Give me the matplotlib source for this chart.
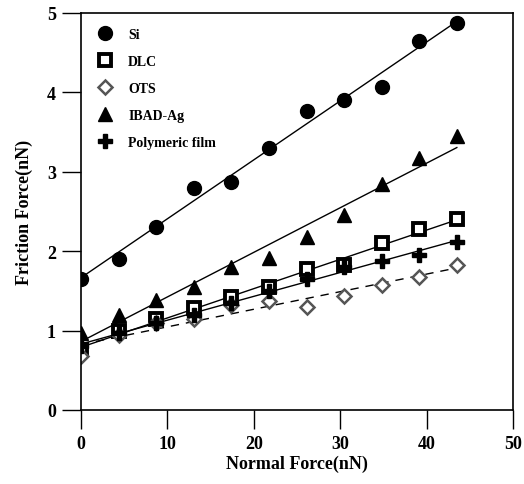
import matplotlib
matplotlib.use("Agg")
import matplotlib.pyplot as plt
import numpy as np

plt.rcParams['font.family'] = ['Liberation Serif', 'DejaVu Serif']
plt.rcParams['font.weight'] = 'bold'

normal_force = [0, 4.35, 8.7, 13.05, 17.4, 21.75, 26.1, 30.45, 34.8, 39.15, 43.5]
si = [1.65, 1.9, 2.3, 2.8, 2.87, 3.3, 3.77, 3.9, 4.07, 4.65, 4.87]
dlc = [0.75, 1.0, 1.15, 1.28, 1.42, 1.55, 1.77, 1.82, 2.1, 2.28, 2.4]
ots = [0.68, 0.95, 1.1, 1.15, 1.32, 1.37, 1.3, 1.43, 1.58, 1.68, 1.82]
ibad_ag = [0.97, 1.2, 1.38, 1.55, 1.8, 1.92, 2.18, 2.45, 2.85, 3.17, 3.45]
polymeric = [0.8, 0.97, 1.1, 1.2, 1.35, 1.5, 1.65, 1.8, 1.88, 1.95, 2.12]

fig = plt.figure(figsize=(5.24, 4.85), dpi=100)
ax = fig.add_axes([0.1546, 0.1526, 0.8244, 0.8186])

x = np.array(normal_force)
series = [
    ('Si', si, dict(marker='o', color='black', markersize=10, mfc='black'), '-'),
    ('DLC', dlc, dict(marker='s', color='black', markersize=9, mfc='white', mew=2.8), '-'),
    ('OTS', ots, dict(marker='D', color='#555555', markersize=7, mfc='white', mew=1.8), (0, (6, 5))),
    ('IBAD-Ag', ibad_ag, dict(marker='^', color='black', markersize=10, mfc='black'), '-'),
    ('Polymeric film', polymeric, dict(marker='P', color='black', markersize=10, mfc='black'), '-'),
]

for name, y, style, ls in series:
    # straight-line fit through each series
    k, b = np.polyfit(x, y, 1)
    ax.plot([x[0], x[-1]], [b, k * x[-1] + b], color='black', lw=1.0, ls=ls)
    ax.plot(x, y, ls='none', label=name, **style)

ax.set_xlim(0, 50)
ax.set_ylim(0, 5)
ax.set_xticks([0, 10, 20, 30, 40, 50])
ax.set_yticks([0, 1, 2, 3, 4, 5])
ax.tick_params(direction='out', length=14, width=1, labelsize=13, pad=4)
for lab in ax.get_xticklabels() + ax.get_yticklabels():
    lab.set_fontweight('bold')
for s in ax.spines.values():
    s.set_linewidth(1.2)

ax.set_xlabel('Normal Force(nN)', fontsize=13, fontweight='bold', labelpad=2)
ax.set_ylabel('Friction Force(nN)', fontsize=13, fontweight='bold', labelpad=10)

ax.legend(loc='upper left', frameon=False, handletextpad=1.1,
          labelspacing=1.0, borderaxespad=0.7, handlelength=1.2,
          prop={'weight': 'bold', 'size': 10})

fig.savefig('out.png', dpi=100)
